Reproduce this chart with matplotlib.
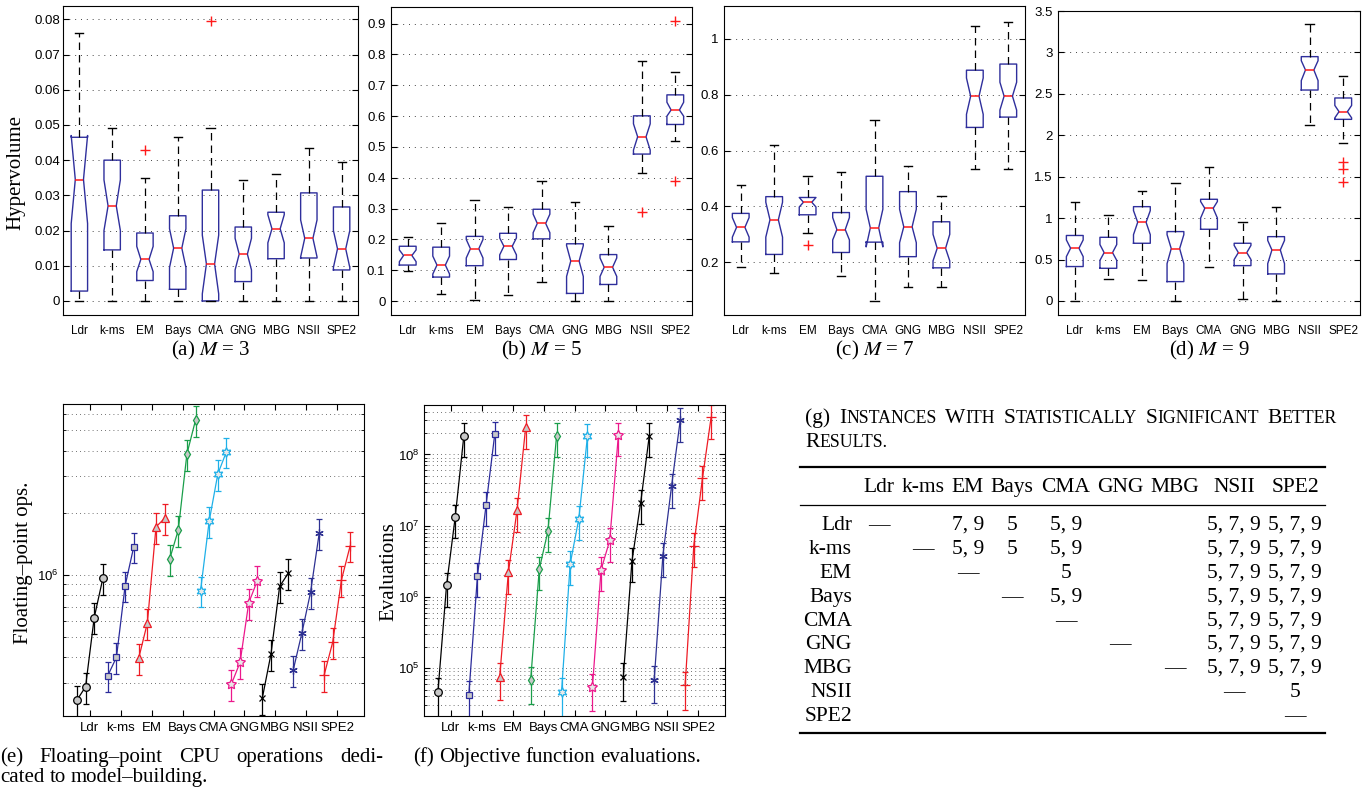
import numpy as np
import matplotlib
matplotlib.use("Agg")
import matplotlib.pyplot as plt
from matplotlib.ticker import FuncFormatter, NullFormatter, LogLocator

plt.rcParams["font.family"] = "Liberation Sans"
plt.rcParams["mathtext.fontset"] = "stix"
SERIF = "Liberation Serif"

algs = ["Ldr", "k-ms", "EM", "Bays", "CMA", "GNG", "MBG", "NSII", "SPE2"]

# Hypervolume box plots, M = 3
m3_q1 = [0.0028, 0.0145, 0.0058, 0.0033, 0.0, 0.0055, 0.0120, 0.0122, 0.0088]
m3_med = [0.0345, 0.0270, 0.0118, 0.0150, 0.0105, 0.0133, 0.0205, 0.0178, 0.0148]
m3_q3 = [0.0465, 0.0400, 0.0193, 0.0242, 0.0315, 0.0210, 0.0252, 0.0307, 0.0267]
m3_lo = [0.0, 0.0, 0.0, 0.0, 0.0, 0.0, 0.0, 0.0, 0.0]
m3_hi = [0.0760, 0.0490, 0.0348, 0.0465, 0.0490, 0.0345, 0.0360, 0.0435, 0.0395]
m3_cilo = [0.0220, 0.0200, 0.0083, 0.0095, 0.0020, 0.0088, 0.0165, 0.0125, 0.0095]
m3_cihi = [0.0470, 0.0344, 0.0155, 0.0205, 0.0187, 0.0178, 0.0245, 0.0230, 0.0200]
m3_fliers = [[], [], [0.043], [], [0.0795], [], [], [], []]

# M = 5
m5_q1 = [0.117, 0.078, 0.115, 0.135, 0.202, 0.025, 0.054, 0.477, 0.573]
m5_med = [0.148, 0.117, 0.170, 0.178, 0.252, 0.130, 0.110, 0.533, 0.620]
m5_q3 = [0.178, 0.175, 0.210, 0.220, 0.298, 0.186, 0.151, 0.601, 0.669]
m5_lo = [0.098, 0.022, 0.003, 0.020, 0.063, 0.0, 0.0, 0.415, 0.520]
m5_hi = [0.209, 0.255, 0.327, 0.305, 0.390, 0.322, 0.245, 0.778, 0.742]
m5_cilo = [0.128, 0.088, 0.140, 0.150, 0.222, 0.080, 0.080, 0.490, 0.600]
m5_cihi = [0.166, 0.146, 0.200, 0.205, 0.282, 0.180, 0.140, 0.575, 0.645]
m5_fliers = [[], [], [], [], [], [], [], [0.29], [0.39, 0.908]]

# M = 7
m7_q1 = [0.273, 0.228, 0.370, 0.235, 0.272, 0.220, 0.180, 0.683, 0.720]
m7_med = [0.325, 0.352, 0.415, 0.317, 0.323, 0.327, 0.250, 0.795, 0.795]
m7_q3 = [0.375, 0.435, 0.432, 0.378, 0.508, 0.453, 0.345, 0.888, 0.910]
m7_lo = [0.182, 0.160, 0.305, 0.150, 0.061, 0.110, 0.110, 0.535, 0.535]
m7_hi = [0.478, 0.620, 0.508, 0.523, 0.710, 0.545, 0.438, 1.045, 1.062]
m7_cilo = [0.290, 0.290, 0.398, 0.280, 0.255, 0.270, 0.205, 0.730, 0.745]
m7_cihi = [0.360, 0.415, 0.432, 0.360, 0.390, 0.390, 0.300, 0.860, 0.845]
m7_fliers = [[], [], [0.26], [], [], [], [], [], []]

# M = 9
m9_q1 = [0.415, 0.394, 0.696, 0.233, 0.865, 0.426, 0.326, 2.546, 2.192]
m9_med = [0.636, 0.583, 0.949, 0.632, 1.118, 0.583, 0.615, 2.788, 2.285]
m9_q3 = [0.790, 0.768, 1.138, 0.837, 1.227, 0.696, 0.776, 2.949, 2.450]
m9_lo = [0.0, 0.265, 0.253, 0.0, 0.406, 0.024, 0.0, 2.124, 1.903]
m9_hi = [1.200, 1.038, 1.327, 1.420, 1.613, 0.957, 1.138, 3.343, 2.715]
m9_cilo = [0.535, 0.490, 0.800, 0.450, 1.000, 0.500, 0.450, 2.660, 2.210]
m9_cihi = [0.736, 0.680, 1.090, 0.800, 1.200, 0.670, 0.730, 2.900, 2.360]
m9_fliers = [[], [], [], [], [], [], [], [], [1.681, 1.593, 1.440]]

# Floating-point ops (M = 3, 5, 7, 9) and their error bars
flops_val = [
    [2.48e5, 2.88e5, 6.22e5, 9.64e5],
    [3.26e5, 4.00e5, 8.87e5, 1.37e6],
    [3.96e5, 5.86e5, 1.71e6, 1.88e6],
    [1.19e6, 1.65e6, 3.85e6, 5.62e6],
    [8.39e5, 1.82e6, 3.08e6, 3.95e6],
    [2.97e5, 3.78e5, 7.33e5, 9.40e5],
    [2.54e5, 4.15e5, 8.81e5, 1.02e6],
    [3.47e5, 5.24e5, 8.24e5, 1.59e6],
    [3.28e5, 4.75e5, 9.46e5, 1.38e6],
]
flops_err = [
    [4.2e4, 4.9e4, 1.06e5, 1.64e5],
    [5.5e4, 6.8e4, 1.5e5, 2.3e5],
    [6.7e4, 1.0e5, 2.9e5, 3.2e5],
    [2.0e5, 2.8e5, 6.5e5, 9.6e5],
    [1.4e5, 3.1e5, 5.2e5, 6.7e5],
    [5.0e4, 6.4e4, 1.25e5, 1.6e5],
    [4.3e4, 7.1e4, 1.5e5, 1.7e5],
    [5.9e4, 8.9e4, 1.4e5, 2.7e5],
    [5.6e4, 8.1e4, 1.6e5, 2.3e5],
]

# Objective function evaluations
evals_val = [
    [4.6e4, 1.46e6, 1.32e7, 1.83e8],
    [4.2e4, 1.97e6, 1.97e7, 1.93e8],
    [7.6e4, 2.2e6, 1.64e7, 2.4e8],
    [6.7e4, 2.44e6, 8.4e6, 1.83e8],
    [4.6e4, 2.9e6, 1.25e7, 1.81e8],
    [5.4e4, 2.4e6, 6.2e6, 1.87e8],
    [7.6e4, 3.2e6, 2.08e7, 1.83e8],
    [6.9e4, 3.8e6, 3.56e7, 3.0e8],
    [5.7e4, 5.2e6, 4.6e7, 3.3e8],
]
evals_err = [
    [2.6e4, 7.3e5, 6.6e6, 9.0e7],
    [2.4e4, 9.8e5, 9.8e6, 9.6e7],
    [4.0e4, 1.1e6, 8.2e6, 1.2e8],
    [3.6e4, 1.2e6, 4.2e6, 9.1e7],
    [2.6e4, 1.45e6, 6.2e6, 9.0e7],
    [2.9e4, 1.2e6, 3.1e6, 9.3e7],
    [4.1e4, 1.6e6, 1.04e7, 9.1e7],
    [3.7e4, 1.9e6, 1.78e7, 1.5e8],
    [3.1e4, 2.6e6, 2.3e7, 1.65e8],
]

# Table (g)
table_rows = algs
table_cells = [
    ["\u2014", "", "7, 9", "5", "5, 9", "", "", "5, 7, 9", "5, 7, 9"],
    ["", "\u2014", "5, 9", "5", "5, 9", "", "", "5, 7, 9", "5, 7, 9"],
    ["", "", "\u2014", "", "5", "", "", "5, 7, 9", "5, 7, 9"],
    ["", "", "", "\u2014", "5, 9", "", "", "5, 7, 9", "5, 7, 9"],
    ["", "", "", "", "\u2014", "", "", "5, 7, 9", "5, 7, 9"],
    ["", "", "", "", "", "\u2014", "", "5, 7, 9", "5, 7, 9"],
    ["", "", "", "", "", "", "\u2014", "5, 7, 9", "5, 7, 9"],
    ["", "", "", "", "", "", "", "\u2014", "5"],
    ["", "", "", "", "", "", "", "", "\u2014"],
]

W, H = 1372, 798
fig = plt.figure(figsize=(W / 100, H / 100), dpi=100)


def px_axes(x0, y0, x1, y1):
    return fig.add_axes([x0 / W, 1 - y1 / H, (x1 - x0) / W, (y1 - y0) / H])


def make_stats(q1, med, q3, lo, hi, cilo, cihi, fliers):
    out = []
    for i in range(len(q1)):
        out.append(dict(q1=q1[i], med=med[i], q3=q3[i], whislo=lo[i], whishi=hi[i],
                        cilo=cilo[i], cihi=cihi[i], fliers=fliers[i]))
    return out


box_panels = [
    (make_stats(m3_q1, m3_med, m3_q3, m3_lo, m3_hi, m3_cilo, m3_cihi, m3_fliers),
     (63, 6, 358, 315), (-0.004, 0.0838), np.arange(0, 0.081, 0.01), 3, 2),
    (make_stats(m5_q1, m5_med, m5_q3, m5_lo, m5_hi, m5_cilo, m5_cihi, m5_fliers),
     (391, 7, 692, 315), (-0.045, 0.954), np.arange(0, 0.91, 0.1), 5, 4),
    (make_stats(m7_q1, m7_med, m7_q3, m7_lo, m7_hi, m7_cilo, m7_cihi, m7_fliers),
     (724, 6, 1025, 315), (0.011, 1.118), np.arange(0.2, 1.01, 0.2), 7, 4),
    (make_stats(m9_q1, m9_med, m9_q3, m9_lo, m9_hi, m9_cilo, m9_cihi, m9_fliers),
     (1058, 11, 1360, 315), (-0.17, 3.5), np.arange(0, 3.51, 0.5), 9, 4),
]

box_blue = "#2f2f9c"
pos = np.arange(1, 10)
box_axes = []
for stats, rect, ylim, yticks, m, ypad in box_panels:
    ax = px_axes(*rect)
    ax.bxp(stats, positions=pos, widths=0.5, capwidths=0.25, shownotches=True,
           showfliers=True,
           boxprops=dict(color=box_blue, lw=1.0),
           medianprops=dict(color="#ff1a1a", lw=1.1),
           whiskerprops=dict(color="black", lw=0.9, ls=(0, (6, 4))),
           capprops=dict(color="black", lw=1.0),
           flierprops=dict(marker="+", mec="#ff1a1a", ms=7, mew=1.0, ls="none"))
    ax.set_xlim(0.5, 9.5)
    ax.set_ylim(*ylim)
    ax.set_xticks(pos)
    ax.set_xticklabels(algs, fontsize=8.5)
    ax.tick_params(axis="x", length=0, pad=7)
    ax.set_yticks(yticks)
    ax.yaxis.set_major_formatter(FuncFormatter(lambda v, p: f"{round(v, 3):g}"))
    ax.tick_params(axis="y", direction="in", length=4, right=True, labelsize=9.5, pad=ypad)
    ax.grid(axis="y", ls=(0, (1, 5)), color="#444444", lw=0.7)
    ax.set_axisbelow(True)
    box_axes.append((ax, rect, m))

ax0 = box_axes[0][0]
ax0.set_ylabel("Hypervolume", family=SERIF, fontsize=15)
ax0.yaxis.set_label_coords(-0.128, 0.46)

# error bar panels
series_colors = ["#000000", "#2b2b9b", "#ee1c25", "#1a9e4a", "#1fb0e8",
                 "#ec188c", "#000000", "#2e3192", "#ee1c25"]
markers = ["o", "s", "^", "d", (6, 1, 0), (5, 1, 0), "x", (6, 2, 0), "+"]
msizes = [5.5, 5, 6, 5.5, 7, 7.5, 4.5, 6, 6.5]
fills = ["#c8c8c8"] * 4 + ["#e8e8e8", "#e8e8e8"] + ["none"] * 3
m_offsets = np.array([-0.42, -0.14, 0.14, 0.42])

err_panels = [
    (flops_val, flops_err, (63, 404, 364, 716), (10 ** 5.318, 10 ** 6.827),
     "Floating\u2013point ops.", (-0.10, 0.49)),
    (evals_val, evals_err, (424, 405, 725, 716), (10 ** 4.327, 10 ** 8.694),
     "Evaluations", (-0.086, 0.465)),
]
for vals, errs, rect, ylim, ylab, lab_xy in err_panels:
    ax = px_axes(*rect)
    for i in range(len(algs)):
        ax.errorbar(pos[i] + m_offsets, vals[i], yerr=errs[i], color=series_colors[i],
                    marker=markers[i], ms=msizes[i], mfc=fills[i], mec=series_colors[i],
                    mew=0.9, lw=0.9, elinewidth=0.9, capsize=2.2, capthick=0.9)
    ax.set_yscale("log")
    ax.set_ylim(*ylim)
    ax.set_xlim(0.13, 9.87)
    ax.set_xticks(pos)
    ax.set_xticklabels(algs, fontsize=8.5)
    ax.yaxis.set_major_locator(LogLocator(base=10))
    ax.yaxis.set_minor_locator(LogLocator(base=10, subs=np.arange(2, 10)))
    ax.yaxis.set_minor_formatter(NullFormatter())
    ax.tick_params(axis="both", which="major", direction="in", length=4,
                   top=True, right=True, labelsize=9.5)
    ax.tick_params(axis="x", pad=4)
    ax.tick_params(axis="y", which="minor", direction="in", length=2.5, right=True)
    ax.grid(axis="y", which="both", ls=(0, (1, 4)), color="#444444", lw=0.6)
    ax.set_axisbelow(True)
    ax.set_ylabel(ylab, family=SERIF, fontsize=15)
    ax.yaxis.set_label_coords(*lab_xy)

# overlay for captions and the table
ov = fig.add_axes([0, 0, 1, 1])
ov.set_xlim(0, W)
ov.set_ylim(H, 0)
ov.axis("off")

for (ax, rect, m), letter in zip(box_axes, "abcd"):
    cx = (rect[0] + rect[2]) / 2
    ov.text(cx, 355, f"({letter}) $M$ = {m}", ha="center", va="baseline",
            family=SERIF, fontsize=15)

renderer = fig.canvas.get_renderer()


def put_words(words, x0, y, x1=None, size=15):
    placed = []
    for w in words:
        pieces = w if isinstance(w, list) else [(w, size)]
        arts = [ov.text(0, y, s, fontsize=fs, family=SERIF, va="baseline", ha="left")
                for s, fs in pieces]
        widths = [a.get_window_extent(renderer).width for a in arts]
        placed.append((arts, widths))
    total = sum(sum(ws) for _, ws in placed)
    gap = 0.25 * size * 100 / 72
    if x1 is not None and len(placed) > 1:
        gap = (x1 - x0 - total) / (len(placed) - 1)
    x = x0
    for arts, ws in placed:
        for a, wd in zip(arts, ws):
            a.set_x(x)
            x += wd
        x += gap


put_words(["(e)", "Floating\u2013point", "CPU", "operations", "dedi-"], 0, 762, 383)
put_words(["cated", "to", "model\u2013building."], 0, 782)
put_words(["(f)", "Objective", "function", "evaluations."], 413, 762)

big, small = 15.5, 12.8
put_words([[("(g)", big)], [("I", big), ("NSTANCES", small)], [("W", big), ("ITH", small)],
           [("S", big), ("TATISTICALLY", small)], [("S", big), ("IGNIFICANT", small)],
           [("B", big), ("ETTER", small)]], 805, 423, 1337)
put_words([[("R", big), ("ESULTS.", small)]], 805, 447)

# table
col_x = [879, 923, 968, 1012, 1066, 1120, 1175, 1234, 1295]
row_y = [524, 548, 572, 596, 620, 643, 667, 691, 715]
tfs = 15.5
for cx, name in zip(col_x, algs):
    ov.text(cx, 492, name, ha="center", va="baseline", family=SERIF, fontsize=tfs)
for ry, name, cells in zip(row_y, table_rows, table_cells):
    ov.text(852, ry + 6, name, ha="right", va="baseline", family=SERIF, fontsize=tfs)
    for cx, c in zip(col_x, cells):
        if c:
            ov.text(cx, ry + 6, c, ha="center", va="baseline", family=SERIF, fontsize=tfs)
ov.plot([800, 1325], [467, 467], color="black", lw=1.6)
ov.plot([800, 1325], [505, 505], color="black", lw=0.9)
ov.plot([800, 1325], [733, 733], color="black", lw=1.6)

fig.savefig("out.png", dpi=100)
